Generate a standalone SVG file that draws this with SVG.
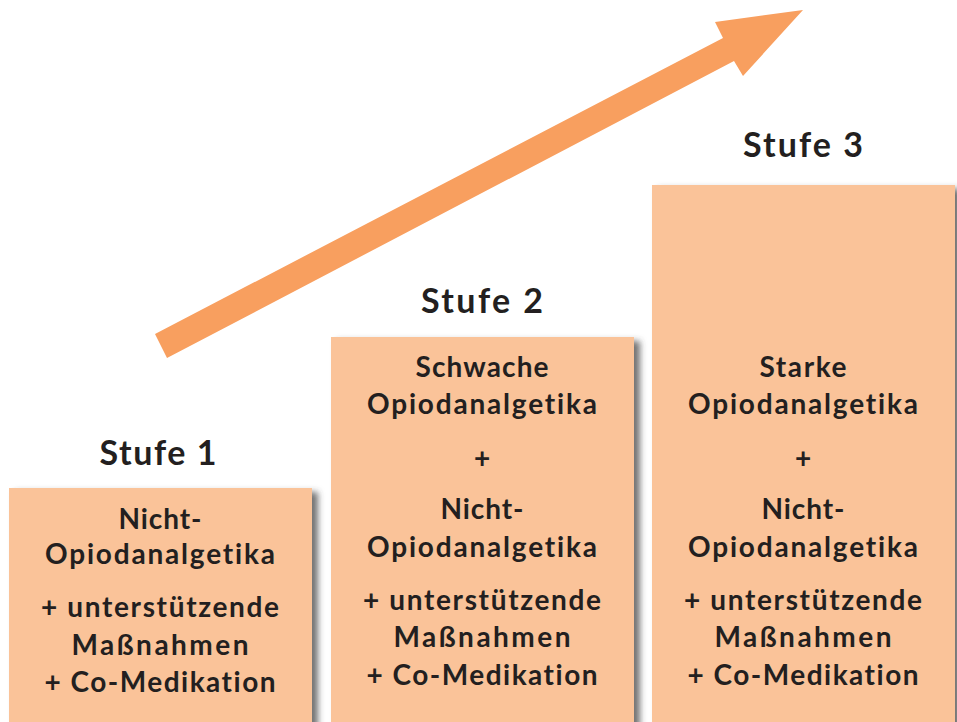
<svg xmlns="http://www.w3.org/2000/svg" width="957" height="722" viewBox="0 0 957 722">
<defs>
<filter id="sh" x="-10%" y="-10%" width="130%" height="130%">
<feDropShadow dx="6" dy="4" stdDeviation="3" flood-color="#444" flood-opacity="0.75"/>
</filter>
</defs>
<style>
.box{fill:#FAC399;filter:url(#sh)}
.t{font-family:Lato,"Open Sans",sans-serif;font-weight:bold;fill:#231F20;text-anchor:middle;font-variant-ligatures:none}
.h{font-size:34px}
.b{font-size:28px}
</style>
<rect width="957" height="722" fill="#fff"/>
<g id="connectors">
<polygon points="155,334 723,38 715,22 803,10 743,76 734,61 167,358" fill="#F89F5F"/>
</g>
<g id="stufe1">
<rect class="box" x="9" y="488" width="303" height="240"/>
<text class="t h" x="158" y="465" textLength="117" lengthAdjust="spacing">Stufe 1</text>
<text class="t b" x="160" y="529" textLength="83" lengthAdjust="spacing">Nicht-</text>
<text class="t b" x="160" y="564" textLength="230" lengthAdjust="spacing">Opiodanalgetika</text>
<text class="t b" x="160" y="617" textLength="238" lengthAdjust="spacing">+ unterstützende</text>
<text class="t b" x="160" y="655" textLength="177" lengthAdjust="spacing">Maßnahmen</text>
<text class="t b" x="160" y="692" textLength="231" lengthAdjust="spacing">+ Co-Medikation</text>
</g>
<g id="stufe2">
<rect class="box" x="331" y="337" width="303" height="391"/>
<text class="t h" x="482" y="313" textLength="122" lengthAdjust="spacing">Stufe 2</text>
<text class="t b" x="482" y="377" textLength="133" lengthAdjust="spacing">Schwache</text>
<text class="t b" x="482" y="414" textLength="230" lengthAdjust="spacing">Opiodanalgetika</text>
<text class="t b" x="482" y="468">+</text>
<text class="t b" x="482" y="519" textLength="83" lengthAdjust="spacing">Nicht-</text>
<text class="t b" x="482" y="557" textLength="230" lengthAdjust="spacing">Opiodanalgetika</text>
<text class="t b" x="482" y="610" textLength="238" lengthAdjust="spacing">+ unterstützende</text>
<text class="t b" x="482" y="647" textLength="177" lengthAdjust="spacing">Maßnahmen</text>
<text class="t b" x="482" y="685" textLength="231" lengthAdjust="spacing">+ Co-Medikation</text>
</g>
<g id="stufe3">
<rect class="box" x="652" y="185" width="303" height="543"/>
<text class="t h" x="803" y="157" textLength="120" lengthAdjust="spacing">Stufe 3</text>
<text class="t b" x="803" y="377" textLength="87" lengthAdjust="spacing">Starke</text>
<text class="t b" x="803" y="414" textLength="230" lengthAdjust="spacing">Opiodanalgetika</text>
<text class="t b" x="803" y="468">+</text>
<text class="t b" x="803" y="519" textLength="83" lengthAdjust="spacing">Nicht-</text>
<text class="t b" x="803" y="557" textLength="230" lengthAdjust="spacing">Opiodanalgetika</text>
<text class="t b" x="803" y="610" textLength="238" lengthAdjust="spacing">+ unterstützende</text>
<text class="t b" x="803" y="647" textLength="177" lengthAdjust="spacing">Maßnahmen</text>
<text class="t b" x="803" y="685" textLength="231" lengthAdjust="spacing">+ Co-Medikation</text>
</g>
</svg>
